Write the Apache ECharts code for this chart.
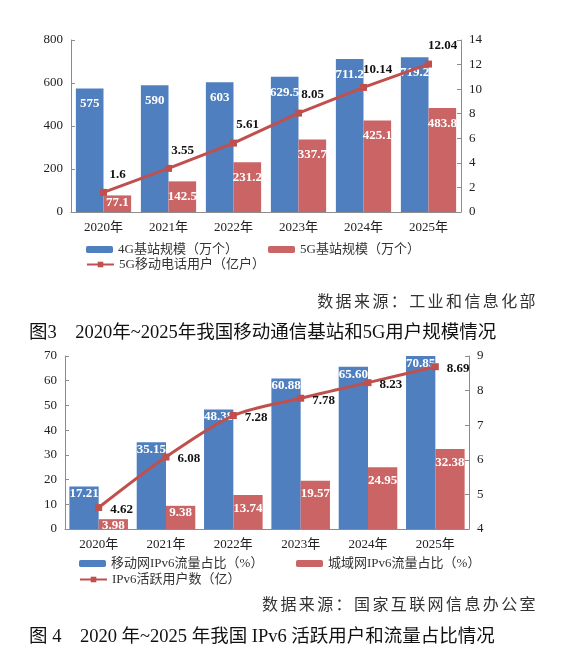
<!DOCTYPE html>
<html>
<head>
<meta charset="utf-8">
<script src="https://cdn.jsdelivr.net/npm/echarts@6/dist/echarts.min.js"></script>
<style>
  html, body { margin: 0; padding: 0; background: #fff; }
  #wrap { position: relative; width: 565px; height: 661px; overflow: hidden; }
  #main { position: absolute; left: 0; top: 0; width: 565px; height: 661px; }
  .src, .cap { position: absolute; white-space: nowrap; }
  .src { right: 27px; font-family: 'Noto Sans CJK SC', sans-serif; font-size: 16px; letter-spacing: 2.4px; color: #333; line-height: 20px; }
  .cap { left: 29px; font-family: 'Liberation Serif', 'Noto Sans CJK SC', serif; font-size: 18.5px; color: #111; line-height: 24px; }
</style>
</head>
<body>
<div id="wrap">
  <div id="main"></div>
  <div class="src" style="top:290px;">数据来源：工业和信息化部</div>
  <div class="cap" style="top:320px;">图3&nbsp;&nbsp;&nbsp;&nbsp;2020年~2025年我国移动通信基站和5G用户规模情况</div>
  <div class="src" style="top:593px;">数据来源：国家互联网信息办公室</div>
  <div class="cap" style="top:624px;">图 4&nbsp;&nbsp;&nbsp;&nbsp;2020 年~2025 年我国 IPv6 活跃用户和流量占比情况</div>
</div>
<script>
// 图3 数据
var years = ['2020年', '2021年', '2022年', '2023年', '2024年', '2025年'];
var g4Stations = [575, 590, 603, 629.5, 711.2, 719.2];
var g5Stations = [77.1, 142.5, 231.2, 337.7, 425.1, 483.8];
var g5Users = [1.6, 3.55, 5.61, 8.05, 10.14, 12.04];

// 图4 数据
var mobileIpv6 = [17.21, 35.15, 48.38, 60.88, 65.60, 70.85];
var fixedIpv6 = [3.98, 9.38, 13.74, 19.57, 24.95, 32.38];
var ipv6Users = [4.62, 6.08, 7.28, 7.78, 8.23, 8.69];

var blue = '#4f7fbf', red = '#cb6464', lineRed = '#c0504d';
var serif = "'Liberation Serif', 'Noto Sans CJK SC', serif";
var axisColor = '#8c8c8c';

function catAxis(grid) {
    return {
        type: 'category', gridIndex: grid, data: years,
        axisLine: {lineStyle: {color: axisColor}},
        axisTick: {inside: true, length: 4, lineStyle: {color: axisColor}},
        axisLabel: {color: '#222', fontSize: 13, fontFamily: serif, margin: 9}
    };
}
function valAxis(grid, pos, min, max, step) {
    return {
        type: 'value', gridIndex: grid, position: pos, min: min, max: max, interval: step,
        splitLine: {show: false},
        axisLine: {show: true, lineStyle: {color: axisColor}},
        axisTick: {show: true, inside: true, length: 4, lineStyle: {color: axisColor}},
        axisLabel: {color: '#222', fontSize: 13, fontFamily: serif, margin: 8}
    };
}
function legend(name, left, top) {
    return {
        data: [name], left: left, top: top, itemWidth: 27, itemHeight: 7, padding: 0,
        textStyle: {color: '#333', fontSize: 13, fontFamily: serif}
    };
}
function barLabel(dist, digits) {
    var lb = {show: true, position: 'insideTop', distance: dist, color: '#fff',
        fontWeight: 'bold', fontSize: 13, fontFamily: serif};
    if (digits) lb.formatter = function(p){ return p.value.toFixed(digits); };
    return lb;
}
var lineLabelStyle = {color: '#111', fontWeight: 'bold', fontSize: 13, fontFamily: serif};

var myChart = echarts.init(document.getElementById('main'));
myChart.setOption({
    animation: false,
    grid: [
        {left: 71, right: 104, top: 40, height: 172},
        {left: 65, right: 96, top: 356, height: 173}
    ],
    xAxis: [catAxis(0), catAxis(1)],
    yAxis: [
        valAxis(0, 'left', 0, 800, 200),
        valAxis(0, 'right', 0, 14, 2),
        valAxis(1, 'left', 0, 70, 10),
        valAxis(1, 'right', 4, 9, 1)
    ],
    legend: [
        legend('4G基站规模（万个）', 86, 243),
        legend('5G基站规模（万个）', 268, 243),
        legend('5G移动电话用户（亿户）', 86, 258),
        legend('移动网IPv6流量占比（%）', 79, 557),
        legend('城域网IPv6流量占比（%）', 296, 557),
        legend('IPv6活跃用户数（亿）', 79, 573)
    ],
    series: [
        {
            name: '4G基站规模（万个）', type: 'bar', xAxisIndex: 0, yAxisIndex: 0,
            data: g4Stations, barGap: '0%', barCategoryGap: '15%',
            itemStyle: {color: blue}, label: barLabel(9)
        },
        {
            name: '5G基站规模（万个）', type: 'bar', xAxisIndex: 0, yAxisIndex: 0,
            data: g5Stations.map(function(v, i){ return i === 0 ? {value: v, label: {distance: 1}} : v; }),
            barGap: '0%', barCategoryGap: '15%',
            itemStyle: {color: red}, label: barLabel(9)
        },
        {
            name: '5G移动电话用户（亿户）', type: 'line', xAxisIndex: 0, yAxisIndex: 1,
            data: g5Users, z: 5, symbol: 'rect', symbolSize: 7,
            lineStyle: {color: lineRed, width: 3}, itemStyle: {color: lineRed},
            label: Object.assign({show: true, position: 'top', distance: 5, offset: [14, -3]}, lineLabelStyle)
        },
        {
            name: '移动网IPv6流量占比（%）', type: 'bar', xAxisIndex: 1, yAxisIndex: 2,
            data: mobileIpv6, barGap: '0%', barCategoryGap: '13%',
            itemStyle: {color: blue}, label: barLabel(1, 2)
        },
        {
            name: '城域网IPv6流量占比（%）', type: 'bar', xAxisIndex: 1, yAxisIndex: 2,
            data: fixedIpv6.map(function(v, i){ return i < 2 ? {value: v, label: {distance: 0}} : v; }),
            barGap: '0%', barCategoryGap: '13%',
            itemStyle: {color: red}, label: barLabel(7, 2)
        },
        {
            name: 'IPv6活跃用户数（亿）', type: 'line', xAxisIndex: 1, yAxisIndex: 3,
            data: ipv6Users, z: 5, smooth: 0.3, symbol: 'rect', symbolSize: 7,
            lineStyle: {color: lineRed, width: 3}, itemStyle: {color: lineRed},
            label: Object.assign({show: true, position: 'right', distance: 8, offset: [0, 2]}, lineLabelStyle)
        }
    ]
});
</script>
</body>
</html>
